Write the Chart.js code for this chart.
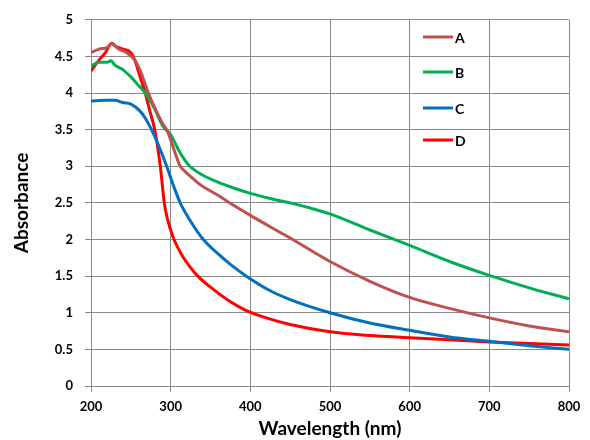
<!DOCTYPE html>
<html>
<head>
<meta charset="utf-8">
<script src="https://cdn.jsdelivr.net/npm/chart.js@4/dist/chart.umd.min.js"></script>
<style>
html,body{margin:0;padding:0;background:#fff;}
#wrap{width:590px;height:440px;position:relative;}
</style>
</head>
<body>
<div id="wrap"><canvas id="c" width="590" height="440"></canvas></div>
<script>
const seriesNames = ["A", "B", "C", "D"];
const seriesColors = ["#C0504D", "#00B050", "#0070C0", "#FF0000"];

const wlA = [200,210,220,226,235,245,255,262,272,280,290,295,300,306,312,318,324,337,360,380,400,437,450,500,550,600,650,700,750,800];
const absA = [4.55,4.6,4.62,4.67,4.6,4.55,4.45,4.3,4.0,3.8,3.58,3.5,3.36,3.17,3.0,2.93,2.87,2.75,2.6,2.46,2.33,2.1,2.02,1.7,1.43,1.21,1.06,0.93,0.82,0.74];

const wlB = [200,210,220,225,230,240,250,260,268,280,290,300,310,318,324,340,360,380,400,425,450,475,500,550,600,650,700,750,800];
const absB = [4.37,4.42,4.42,4.44,4.38,4.32,4.22,4.1,4.0,3.78,3.55,3.43,3.22,3.08,3.0,2.88,2.78,2.7,2.63,2.56,2.5,2.43,2.35,2.13,1.92,1.7,1.51,1.34,1.19];

const wlC = [200,220,230,240,250,261,268,276,285,295,303,312,325,341,360,375,395,425,450,500,550,600,650,700,750,800];
const absC = [3.89,3.9,3.9,3.87,3.85,3.76,3.66,3.5,3.28,3.0,2.75,2.5,2.25,2.0,1.8,1.66,1.5,1.3,1.18,1.0,0.86,0.76,0.67,0.61,0.55,0.5];

const wlD = [200,210,218,226,232,240,250,255,260,268,274,280,287,292,296,300,305,314,324,334,350,375,395,420,450,500,550,600,650,700,750,800];
const absD = [4.3,4.45,4.55,4.68,4.63,4.6,4.55,4.45,4.28,4.0,3.75,3.5,3.0,2.5,2.28,2.13,1.98,1.79,1.63,1.5,1.35,1.15,1.03,0.93,0.84,0.74,0.69,0.66,0.63,0.6,0.58,0.56];

const xTicks = [200,300,400,500,600,700,800];
const yTicks = [0,0.5,1,1.5,2,2.5,3,3.5,4,4.5,5];

const FONT = "Lato, 'Liberation Sans', sans-serif";
const wls = [wlA, wlB, wlC, wlD];
const vals = [absA, absB, absC, absD];

const datasets = seriesNames.map((n, i) => ({
  label: n,
  data: wls[i].map((w, j) => ({x: w, y: vals[i][j]})),
  borderColor: seriesColors[i],
  backgroundColor: seriesColors[i],
  borderWidth: 3,
  pointRadius: 0,
  cubicInterpolationMode: 'monotone',
  fill: false
}));

const legendPlugin = {
  id: 'customLegend',
  afterDatasetsDraw(chart) {
    const ctx = chart.ctx;
    const ys = [37, 72, 108, 140];
    ctx.save();
    chart.data.datasets.forEach((ds, i) => {
      ctx.strokeStyle = ds.borderColor;
      ctx.lineWidth = 3;
      ctx.beginPath();
      ctx.moveTo(423, ys[i]);
      ctx.lineTo(453, ys[i]);
      ctx.stroke();
      ctx.fillStyle = '#000';
      ctx.font = "bold 14px " + FONT;
      ctx.textBaseline = 'middle';
      ctx.textAlign = 'left';
      ctx.fillText(ds.label, 455, ys[i] + 1);
    });
    ctx.restore();
  }
};

new Chart(document.getElementById('c'), {
  type: 'line',
  data: { datasets },
  plugins: [legendPlugin],
  options: {
    responsive: false,
    animation: false,
    events: [],
    layout: { padding: { top: 15, right: 21, left: 0, bottom: 0 } },
    plugins: { legend: { display: false }, tooltip: { enabled: false } },
    scales: {
      x: {
        type: 'linear',
        min: 200, max: 800,
        afterBuildTicks: s => { s.ticks = xTicks.map(v => ({value: v})); },
        afterFit: s => { s.height = 54; },
        grid: { color: '#8a8a8a', lineWidth: 1, tickLength: 6, drawTicks: true },
        border: { color: '#8a8a8a', width: 1 },
        ticks: { color: '#000', font: { family: FONT, size: 13, weight: 'bold' }, padding: 7, maxRotation: 0,
                 callback: v => String(v) },
        title: { display: true, text: 'Wavelength (nm)', color: '#000', font: { family: FONT, size: 19, weight: 'bold' }, padding: { top: 0, bottom: 0 } }
      },
      y: {
        type: 'linear',
        min: 0, max: 5,
        afterBuildTicks: s => { s.ticks = yTicks.map(v => ({value: v})); },
        afterFit: s => { s.width = 91; },
        grid: { color: '#8a8a8a', lineWidth: 1, tickLength: 6, drawTicks: true },
        border: { color: '#8a8a8a', width: 1 },
        ticks: { color: '#000', font: { family: FONT, size: 13, weight: 'bold' }, padding: 12,
                 callback: v => String(v) },
        title: { display: true, text: 'Absorbance', color: '#000', font: { family: FONT, size: 19, weight: 'bold' }, padding: { top: 10, bottom: 0 } }
      }
    }
  }
});
</script>
</body>
</html>
